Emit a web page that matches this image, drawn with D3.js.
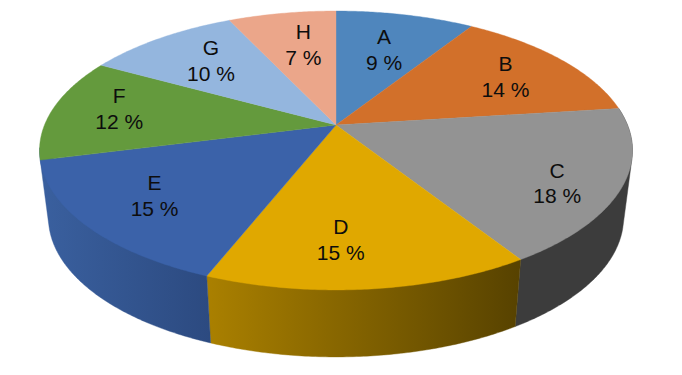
<!DOCTYPE html>
<html><head><meta charset="utf-8">
<script src="https://cdn.jsdelivr.net/npm/d3@7/dist/d3.min.js"></script>
<style>html,body{margin:0;padding:0;background:#fff}svg{display:block}</style>
</head><body><svg id="c" width="682" height="375"></svg>
<script>
const categories = ["A","B","C","D","E","F","G","H"];
const values = [9,14,18,15,15,12,10,7];
const topColors = ["#4f86bd","#d2702a","#939393","#e0a800","#3b62a9","#649a3d","#94b6de","#eba68a"];
const wallStart = ["#3a628c","#9b531f","#3c3c3c","#aa8000","#3a609f","#4a722d","#6e87a4","#ae7b66"];
const wallEnd   = ["#3a628c","#9b531f","#3c3c3c","#574200","#2c4a80","#4a722d","#6e87a4","#ae7b66"];
const labelShiftX = [-4,4,20,-18,-9,-12,6,8];
const labelShiftY = [7,0,14,3,0,-5,0,3];

const W = 682, H = 375;
const cx = 336, cy = 125, k = 0.1827, A = 134.8, B = 291.5;
const wallScaleX = 0.97, wallScaleY = 1, wallCy = 192;
const labelR = 0.72;
const leftTangent = 2 * Math.PI - Math.acos(-k);

const svg = d3.select("#c");
const defs = svg.append("defs");
const arcs = d3.pie().sort(null).value(d => d)(values);

// perspective projection of a point on the disc (angle clockwise from top, r in 0..1)
function proj(a, r = 1) {
  const u = Math.sin(a) * r, v = Math.cos(a) * r, w = 1 + k * v;
  return [B * u / w, -A * v / w];
}
const upper = (a, r) => { const p = proj(a, r); return [cx + p[0], cy + p[1]]; };
const lower = a => { const p = proj(a); return [cx + p[0] * wallScaleX, wallCy + p[1] * wallScaleY]; };
const line = d3.line();
const sweep = (a0, a1) => {
  const n = Math.max(2, Math.ceil((a1 - a0) / 0.01));
  return d3.range(n + 1).map(i => a0 + (a1 - a0) * i / n);
};

const walls = svg.append("g");
arcs.forEach((d, i) => {
  // only the slices on the near side of the disc show a wall
  if (d.endAngle <= Math.PI / 2 || d.startAngle >= leftTangent - 0.1) return;
  const end = (d.endAngle < leftTangent && i + 1 < arcs.length && arcs[i + 1].endAngle > leftTangent)
    ? leftTangent + 0.02 : d.endAngle;
  const as = sweep(d.startAngle, end);
  const pts = d3.polygonHull(as.map(a => upper(a)).concat(as.map(a => lower(a))));
  const xs = pts.map(p => p[0]);
  const id = "wall" + i;
  const g = defs.append("linearGradient").attr("id", id).attr("gradientUnits", "userSpaceOnUse")
    .attr("x1", d3.min(xs)).attr("x2", d3.max(xs)).attr("y1", 0).attr("y2", 0);
  g.append("stop").attr("offset", 0).attr("stop-color", wallStart[i]);
  g.append("stop").attr("offset", 1).attr("stop-color", wallEnd[i]);
  walls.append("path").attr("d", line(pts) + "Z").attr("fill", `url(#${id})`)
    .attr("stroke", `url(#${id})`).attr("stroke-width", 0.4);
});

const tops = svg.append("g");
arcs.forEach((d, i) => {
  const pts = [[cx, cy]].concat(sweep(d.startAngle, d.endAngle).map(a => upper(a)));
  tops.append("path").attr("d", line(pts) + "Z").attr("fill", topColors[i])
    .attr("stroke", topColors[i]).attr("stroke-width", 0.4);
});

const labels = svg.append("g").attr("font-family", "'Liberation Sans', Arial, sans-serif")
  .attr("font-size", 21).attr("fill", "#0d0d0d").attr("text-anchor", "middle");
arcs.forEach((d, i) => {
  const p = upper((d.startAngle + d.endAngle) / 2, labelR);
  const x = p[0] + labelShiftX[i], y = p[1] + labelShiftY[i];
  labels.append("text").attr("x", x).attr("y", y - 5).text(categories[i]);
  labels.append("text").attr("x", x).attr("y", y + 20.5).text(values[i] + " %");
});
</script></body></html>
